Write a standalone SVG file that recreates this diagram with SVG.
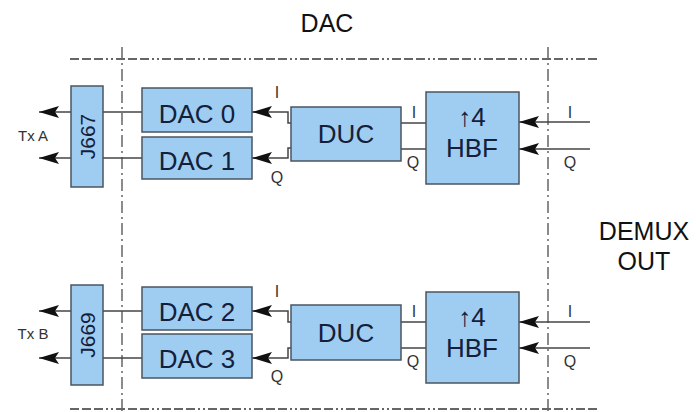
<svg xmlns="http://www.w3.org/2000/svg" width="696" height="412" viewBox="0 0 696 412">
<defs>
<marker id="ah" viewBox="0 0 20 12" refX="20" refY="6" markerWidth="20" markerHeight="12" markerUnits="userSpaceOnUse" orient="auto">
<path d="M0,0 L20,6 L0,12 L4,6 Z" fill="#111"/>
</marker>
<style>
.box{fill:#9fcdf2;stroke:#4a5560;stroke-width:1.5}
.bt{font-family:"Liberation Sans",Arial,sans-serif;fill:#14203a;text-anchor:middle}
.lbl{font-family:"Liberation Sans",Arial,sans-serif;font-size:16px;fill:#333;text-anchor:middle}
.tx{font-family:"Liberation Sans",Arial,sans-serif;font-size:15px;fill:#333;text-anchor:middle}
.ttl{font-family:"Liberation Sans",Arial,sans-serif;fill:#111;text-anchor:middle}
.w{fill:none;stroke:#444;stroke-width:1.5}
.ar{fill:none;stroke:#444;stroke-width:1.5;marker-end:url(#ah)}
.hd{fill:none;stroke:#666;stroke-width:2;stroke-dasharray:9 3 9 3 9 3 2 3 2 3}
.vd{fill:none;stroke:#666;stroke-width:1.5;stroke-dasharray:12 4 2 4}
</style>
</defs>
<rect width="696" height="412" fill="#fff"/>
<g id="frame">
<line class="hd" x1="70" y1="59" x2="600" y2="59"/>
<line class="hd" x1="70" y1="409" x2="600" y2="409"/>
<line class="vd" x1="122" y1="47" x2="122" y2="412"/>
<line class="vd" x1="548" y1="47" x2="548" y2="412"/>
</g>
<g id="titles">
<text class="ttl" x="327" y="32" font-size="25">DAC</text>
<text class="ttl" x="644" y="240" font-size="25">DEMUX</text>
<text class="ttl" x="644" y="270" font-size="25">OUT</text>
</g>
<g id="connectors">
<line class="ar" x1="71" y1="112" x2="39" y2="112"/>
<line class="ar" x1="71" y1="158" x2="39" y2="158"/>
<line class="w" x1="103" y1="112" x2="142" y2="112"/>
<line class="w" x1="103" y1="158" x2="142" y2="158"/>
<polyline class="ar" points="291,123 288,123 288,112 252,112"/>
<polyline class="ar" points="291,148 288,148 288,158 252,158"/>
<line class="w" x1="401" y1="123" x2="426" y2="123"/>
<line class="w" x1="401" y1="149" x2="426" y2="149"/>
<line class="ar" x1="590" y1="122" x2="519" y2="122"/>
<line class="ar" x1="590" y1="149" x2="519" y2="149"/>
<line class="ar" x1="71" y1="311" x2="39" y2="311"/>
<line class="ar" x1="71" y1="358" x2="39" y2="358"/>
<line class="w" x1="103" y1="311" x2="142" y2="311"/>
<line class="w" x1="103" y1="358" x2="142" y2="358"/>
<polyline class="ar" points="291,322 288,322 288,311 252,311"/>
<polyline class="ar" points="291,348 288,348 288,358 252,358"/>
<line class="w" x1="401" y1="322" x2="426" y2="322"/>
<line class="w" x1="401" y1="348" x2="426" y2="348"/>
<line class="ar" x1="590" y1="322" x2="519" y2="322"/>
<line class="ar" x1="590" y1="348" x2="519" y2="348"/>
</g>
<g id="labels">
<text class="tx" x="33" y="141">Tx A</text>
<text class="tx" x="33" y="339">Tx B</text>
<text class="lbl" x="277" y="98">I</text>
<text class="lbl" x="277" y="183">Q</text>
<text class="lbl" x="414" y="118">I</text>
<text class="lbl" x="413" y="168">Q</text>
<text class="lbl" x="570" y="118">I</text>
<text class="lbl" x="570" y="168">Q</text>
<text class="lbl" x="277" y="297">I</text>
<text class="lbl" x="277" y="382">Q</text>
<text class="lbl" x="414" y="317">I</text>
<text class="lbl" x="413" y="367">Q</text>
<text class="lbl" x="570" y="317">I</text>
<text class="lbl" x="570" y="367">Q</text>
</g>
<g id="J667"><rect class="box" x="71" y="86" width="32" height="101"/><text class="bt" font-size="21" transform="translate(94.5,136.5) rotate(-90)">J667</text></g>
<g id="DAC0"><rect class="box" x="142" y="88" width="110" height="44"/><text class="bt" x="197" y="123" font-size="26">DAC 0</text></g>
<g id="DAC1"><rect class="box" x="142" y="137" width="110" height="42"/><text class="bt" x="197" y="170" font-size="26">DAC 1</text></g>
<g id="DUC1"><rect class="box" x="291" y="107" width="110" height="54"/><text class="bt" x="346" y="143" font-size="26">DUC</text></g>
<g id="HBF1"><rect class="box" x="426" y="92" width="93" height="92"/><text class="bt" x="472" y="126" font-size="26">↑4</text><text class="bt" x="472" y="157" font-size="26">HBF</text></g>
<g id="J669"><rect class="box" x="71" y="285" width="32" height="100"/><text class="bt" font-size="21" transform="translate(94.5,335) rotate(-90)">J669</text></g>
<g id="DAC2"><rect class="box" x="142" y="287" width="110" height="43"/><text class="bt" x="197" y="321" font-size="26">DAC 2</text></g>
<g id="DAC3"><rect class="box" x="142" y="334" width="110" height="44"/><text class="bt" x="197" y="368" font-size="26">DAC 3</text></g>
<g id="DUC2"><rect class="box" x="291" y="305" width="110" height="55"/><text class="bt" x="346" y="342" font-size="26">DUC</text></g>
<g id="HBF2"><rect class="box" x="426" y="292" width="93" height="91"/><text class="bt" x="472" y="326" font-size="26">↑4</text><text class="bt" x="472" y="357" font-size="26">HBF</text></g>
</svg>
